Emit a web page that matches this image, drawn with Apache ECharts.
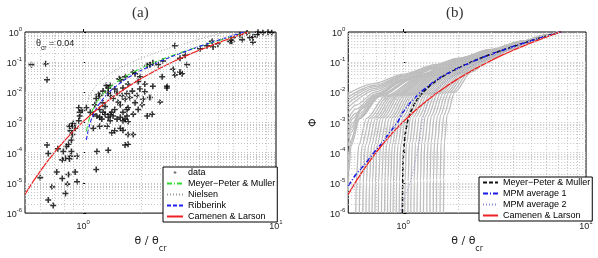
<!DOCTYPE html>
<html>
<head>
<meta charset="utf-8">
<script src="https://cdn.jsdelivr.net/npm/echarts@6/dist/echarts.min.js"></script>
<style>
  html, body { margin: 0; padding: 0; background: #fff; }
  #chartA { position: absolute; left: 0; top: 0; width: 300px; height: 258px; }
  #chartB { position: absolute; left: 300px; top: 0; width: 298px; height: 258px; }
</style>
</head>
<body>
<div id="chartA"></div>
<div id="chartB"></div>
<script>
// ---- data, [theta/theta_cr, Phi] ----
var measured = [
  [0.54,0.083],[0.64,0.089],[0.65,0.026],
  [0.65,1.8e-4],[0.66,9.5e-5],[0.74,1.35e-4],[0.79,1.1e-4],[0.78,5.8e-5],[0.81,6.6e-5],[0.85,6.2e-5],[0.86,7.7e-5],[0.93,7.7e-5],
  [0.60,1.5e-5],[0.73,2.3e-5],[0.78,1.4e-5],[0.83,9.1e-6],[0.84,1.9e-5],[0.91,2.3e-5],[0.93,1.1e-5],[0.69,7.4e-6],[0.81,4.5e-6],[0.66,2.7e-6],[0.70,1.8e-6],
  [1.17,2.8e-5],[1.18,1.1e-4],[1.35,1.2e-4],
  [0.85,7.6e-4],[0.86,5.3e-4],[0.88,4.0e-4],[0.87,2.6e-4],[0.88,8.1e-4],[0.89,9.3e-4],[0.95,1.15e-3],[0.96,1.65e-3],[0.91,6.5e-4],[0.84,1.9e-4],[0.82,1.6e-4],[0.87,1.1e-4],
  [1.18,1.65e-3],[1.22,1.5e-3],[1.25,1.3e-3],[1.35,1.5e-3],[1.38,1.15e-3],[1.43,1.65e-3],[1.5,1.3e-3],[1.56,1.5e-3],[1.61,1.15e-3],[1.65,1.3e-3],[1.69,1.65e-3],[1.71,1.07e-3],
  [1.13,6.5e-4],[1.22,7.6e-4],[1.33,7.6e-4],[1.41,4.6e-4],[1.46,5.3e-4],[1.56,6.5e-4],[1.61,5.6e-4],[1.71,4.0e-4],[1.82,4.0e-4],[1.65,1.8e-4],[1.71,1.9e-4],[2.15,1.65e-3],
  [1.2,8.5e-3],[1.22,7.9e-3],[1.32,0.017],[1.35,0.014],[1.38,0.017],[1.54,0.028],[1.57,0.026],[1.65,0.033],[1.82,0.047],[1.86,0.041],
  [2.15,0.077],[2.22,0.083],[2.3,0.095],[2.45,0.083],[2.6,0.11],[2.93,0.058],[3.18,0.047],[3.26,0.041],[2.72,0.016],[3.18,0.135],
  [3.38,0.17],[4.04,0.28],[4.39,0.35],[4.72,0.32],[5.78,0.49],[5.98,0.65],[6.5,0.81],[7.08,0.93],[7.6,0.7],[8.07,0.98],
  [8.55,0.94],[9.09,0.98],[9.5,0.95],[7.33,0.65],[7.97,0.81],
  [2.99,0.35],[4.66,0.49],[5.0,0.4],[5.9,0.49],[6.67,0.56],[7.6,0.46],[3.46,0.083],[2.99,0.038],[2.72,0.014],[2.51,4.8e-3],
  [2.22,6.8e-3],[2.3,0.016],[2.57,0.033],[2.28,1.9e-3],
  [1.38,7.9e-3],[1.43,6.3e-3],[1.5,9.8e-3],[1.52,4.8e-3],[1.56,3.9e-3],[1.59,7.9e-3],[1.65,5.9e-3],[1.69,9.1e-3],[1.71,3.1e-3],[1.75,6.8e-3],
  [1.8,0.011],[1.86,4.5e-3],[1.9,7.9e-3],[1.97,0.013],[2.05,5.9e-3],[2.09,0.0105],[1.46,2.7e-3],[1.3,3.4e-3],[1.27,4.5e-3],[1.41,2.2e-3],
  [1.61,2.2e-3],[1.93,2.7e-3],[1.22,2.7e-3],[1.15,3.9e-3],[1.09,2.2e-3],[1.04,3.1e-3],[0.95,3.1e-3],[0.96,2.2e-3],[0.99,2.5e-3],[1.13,1.9e-3],
  [1.3,1.9e-3],[2.02,3.9e-3],[1.82,1.9e-3],[1.69,2.7e-3],[1.17,6.3e-3],[1.35,9.8e-3],[1.46,0.013],[1.61,0.014],[1.71,0.019],[1.93,0.023],
  [2.09,0.019],[1.97,0.033],[1.27,0.011],[1.27,2.2e-3],[1.38,1.9e-3]
];

var camenenLarson = [[0.5,4.19e-6],[0.55,1.1e-5],[0.6,2.47e-5],[0.65,4.95e-5],[0.7,9.07e-5],[0.75,1.55e-4],[0.8,2.48e-4],
  [0.85,3.78e-4],[0.9,5.52e-4],[0.95,7.8e-4],[1.0,1.07e-3],[1.1,1.85e-3],[1.2,2.97e-3],[1.35,5.37e-3],[1.5,8.78e-3],
  [1.75,0.017],[2,0.0286],[2.5,0.0627],[3,0.111],[3.5,0.174],[4,0.249],[5,0.436],[6,0.667],[7,0.935],[7.3,1.02]];
var mpmA = [[1.04,5.1e-4],[1.07,1.19e-3],[1.1,2.02e-3],[1.15,3.72e-3],[1.2,5.72e-3],[1.3,0.0105],[1.4,0.0162],[1.55,0.0261],
  [1.7,0.0375],[2,0.064],[2.5,0.118],[3,0.181],[4,0.333],[5,0.512],[6,0.716],[7,0.941],[7.3,1.01]];
var nielsen = [[1.04,3.9e-3],[1.1,0.0101],[1.2,0.021],[1.35,0.038],[1.5,0.0588],[1.75,0.095],[2,0.136],[2.5,0.228],[3,0.333],
  [4,0.576],[5,0.859],[5.5,1.01]];
var ribberink = [[1.04,2.67e-4],[1.07,6.72e-4],[1.1,1.21e-3],[1.15,2.36e-3],[1.2,3.79e-3],[1.3,7.4e-3],[1.4,0.0119],[1.55,0.0201],
  [1.7,0.03],[2,0.054],[2.5,0.105],[3,0.17],[4,0.331],[5,0.532],[6,0.769],[7,1.04]];

var mpmB = [[0.99,1e-6],[0.991,2.0e-6],[0.995,2.26e-5],[1.0,6.4e-5],[1.01,1.81e-4],[1.03,5.12e-4],[1.06,1.19e-3],[1.1,2.33e-3],
  [1.15,4.1e-3],[1.2,6.16e-3],[1.3,0.011],[1.4,0.0168],[1.55,0.0268],[1.7,0.0383],[2,0.065],[2.5,0.119],[3,0.182],[4,0.334],
  [5,0.514],[6,0.718],[7,0.943],[7.3,1.03]];
var mpmAverage1 = [[0.5,8e-6],[0.55,1.9e-5],[0.62,4.3e-5],[0.69,1e-4],[0.76,2e-4],[0.84,4.6e-4],[0.93,1.0e-3],[1.0,2.3e-3],
  [1.1,4.8e-3],[1.24,1.0e-2],[1.4,1.8e-2],[1.6,3.2e-2],[1.8,4.6e-2],[2,6.3e-2],[2.5,0.117],[3,0.18],[4,0.332],[5,0.512],
  [6,0.716],[7,0.94],[7.3,1.01]];
var mpmAverage2 = [[0.955,1e-6],[1.02,3.5e-6],[1.1,1.15e-5],[1.16,5e-5],[1.22,2.0e-4],[1.27,1.0e-3],[1.32,2.8e-3],[1.4,6.5e-3],
  [1.55,0.014],[1.8,0.03],[2.2,0.06],[3,0.15],[4,0.3],[5,0.49],[6,0.71],[7.1,1.0]];

// individual MPM realisations (grey fan in panel b)
var ensemble = [
  [[0.5,9.3e-3],[0.7,0.0199],[1,0.0404],[1.5,0.0836],[2,0.136],[3,0.264],[4.5,0.503],[6,0.788],[7,1]],
  [[0.5,7.1e-3],[0.7,0.0172],[1,0.037],[1.5,0.0797],[2,0.132],[3,0.26],[4.5,0.50],[6,0.786],[7,1]],
  [[0.5,5.7e-3],[0.7,0.0154],[1,0.0347],[1.5,0.077],[2,0.129],[3,0.257],[4.5,0.4975],[6,0.785],[7,1]],
  [[0.5,4.42e-3],[0.7,0.0136],[1,0.0325],[1.5,0.0743],[2,0.126],[3,0.254],[4.5,0.495],[6,0.784],[7,1]],
  [[0.5,3.2e-3],[0.7,0.0119],[1,0.0302],[1.5,0.0715],[2,0.123],[3,0.251],[4.5,0.4925],[6,0.783],[7,1]],
  [[0.5,2.15e-3],[0.55,3.77e-3],[0.7,0.0102],[1,0.028],[1.5,0.0688],[2,0.12],[3,0.248],[4.5,0.49],[6,0.782],[7,1]],
  [[0.5,1.34e-3],[0.55,2.78e-3],[0.7,8.78e-3],[1,0.0262],[1.5,0.0665],[2,0.118],[3,0.2455],[4.5,0.488],[6,0.781],[7,1]],
  [[0.5,1.0e-3],[0.55,2.0e-3],[0.7,8.1e-3],[1,0.0252],[1.5,0.0653],[2,0.1165],[3,0.244],[4.5,0.487],[6,0.7805],[7,1]],
  [[0.5,6.67e-4],[0.53,1.35e-3],[0.6,3.47e-3],[0.7,7.46e-3],[1,0.0243],[1.5,0.0642],[2,0.115],[3,0.243],[4.5,0.486],[6,0.78],[7,1]],
  [[0.5,4.6e-4],[0.53,1.0e-3],[0.6,3.0e-3],[0.72,7.9e-3],[1,0.0235],[1.5,0.063],[2,0.114],[3,0.242],[4.5,0.485],[6,0.7795],[7,1]],
  [[0.5,3.11e-4],[0.52,6.7e-4],[0.57,1.89e-3],[0.72,7.49e-3],[1.17,0.0351],[2,0.1133],[3,0.241],[4.5,0.484],[6,0.779],[7,1]],
  [[0.5,1.7e-4],[0.52,4.8e-4],[0.57,1.6e-3],[0.73,7.5e-3],[1.18,0.0352],[2,0.1125],[3,0.2403],[4.5,0.484],[6,0.779],[7,1]],
  [[0.5,6.0e-5],[0.51,1.7e-4],[0.57,1.36e-3],[0.74,7.53e-3],[1.19,0.0353],[2,0.1118],[3,0.2396],[4.5,0.484],[6,0.779],[7,1]],
  [[0.5,2.1e-5],[0.505,7.5e-5],[0.515,2.5e-4],[0.574,1.36e-3],[0.744,7.53e-3],[1.195,0.0353],[2,0.1114],[3,0.239],[4.5,0.483],[6,0.7785],[7,1]],
  [[0.5,5.4e-6],[0.503,2.13e-5],[0.518,1.7e-4],[0.578,1.36e-3],[0.748,7.53e-3],[1.2,0.0354],[2,0.111],[3,0.2385],[4.5,0.482],[6,0.778],[7,1]],
  [[0.55,1e-6],[0.553,1.0e-5],[0.57,1.73e-4],[0.63,1.38e-3],[0.8,7.63e-3],[1.25,0.0358],[2,0.1066],[3,0.234],[4.5,0.479],[6,0.777],[7,1]],
  [[0.575,1e-6],[0.578,1.0e-5],[0.595,1.74e-4],[0.655,1.39e-3],[0.825,7.67e-3],[1.275,0.036],[2,0.1045],[3,0.232],[4.5,0.477],[6,0.776],[7,1]],
  [[0.6,1e-6],[0.603,1.0e-5],[0.62,1.75e-4],[0.68,1.4e-3],[0.85,7.72e-3],[1.3,0.0362],[2,0.1023],[3,0.2297],[4.5,0.4757],[6,0.775],[7,1]],
  [[0.625,1e-6],[0.628,1.02e-5],[0.645,1.76e-4],[0.705,1.4e-3],[0.875,7.77e-3],[1.325,0.0364],[2,0.1],[3,0.2275],[4.5,0.474],[6,0.774],[7,1]],
  [[0.65,1e-6],[0.653,1.03e-5],[0.67,1.77e-4],[0.73,1.41e-3],[0.9,7.81e-3],[1.35,0.0366],[2,0.098],[3,0.2252],[4.5,0.472],[6,0.773],[7,1]],
  [[0.675,1e-6],[0.678,1.03e-5],[0.695,1.78e-4],[0.755,1.42e-3],[0.925,7.86e-3],[1.375,0.0368],[2,0.0959],[3,0.2229],[4.5,0.47],[6,0.7725],[7,1]],
  [[0.7,1e-6],[0.703,1.04e-5],[0.72,1.79e-4],[0.78,1.43e-3],[0.95,7.91e-3],[1.4,0.0371],[2,0.0938],[3,0.2206],[4.5,0.4685],[6,0.772],[7,1]],
  [[0.73,1e-6],[0.733,1.045e-5],[0.75,1.8e-4],[0.81,1.44e-3],[0.98,7.96e-3],[1.43,0.0373],[2,0.0912],[3,0.2178],[4.5,0.466],[6,0.7705],[7,1]],
  [[0.76,1e-6],[0.763,1.05e-5],[0.78,1.82e-4],[0.84,1.45e-3],[1.01,8.02e-3],[1.46,0.0376],[2,0.0886],[3,0.215],[4.5,0.464],[6,0.769],[7,1]],
  [[0.79,1e-6],[0.793,1.06e-5],[0.81,1.83e-4],[0.87,1.46e-3],[1.04,8.08e-3],[1.49,0.0378],[2,0.086],[3,0.2123],[4.5,0.462],[6,0.768],[7,1]],
  [[0.82,1e-6],[0.823,1.07e-5],[0.84,1.84e-4],[0.9,1.47e-3],[1.07,8.14e-3],[1.52,0.0381],[2,0.0834],[3,0.2096],[4.5,0.4596],[6,0.7675],[7,1]],
  [[0.85,1e-6],[0.853,1.08e-5],[0.87,1.85e-4],[0.93,1.48e-3],[1.1,8.2e-3],[1.55,0.0384],[2,0.0808],[3,0.2067],[4.5,0.4573],[6,0.766],[7,1]],
  [[0.88,1e-6],[0.883,1.09e-5],[0.9,1.87e-4],[0.96,1.49e-3],[1.13,8.26e-3],[1.58,0.0387],[2,0.0783],[3,0.2039],[4.5,0.455],[6,0.765],[7,1]],
  [[0.915,1e-6],[0.918,1.1e-5],[0.935,1.88e-4],[0.995,1.5e-3],[1.165,8.33e-3],[1.615,0.039],[2,0.0753],[3,0.2006],[4.5,0.452],[6,0.764],[7,1]],
  [[0.95,1e-6],[0.953,1.1e-5],[0.97,1.9e-4],[1.03,1.52e-3],[1.2,8.4e-3],[1.65,0.0394],[2,0.0723],[3,0.1973],[4.5,0.4495],[6,0.763],[7,1]],
  [[0.985,1e-6],[0.988,1.11e-5],[1.005,1.92e-4],[1.065,1.53e-3],[1.235,8.47e-3],[1.685,0.0397],[2,0.0693],[3,0.194],[4.5,0.447],[6,0.7615],[7,1]],
  [[1.02,1e-6],[1.023,1.12e-5],[1.04,1.94e-4],[1.1,1.55e-3],[1.27,8.55e-3],[1.72,0.0401],[2,0.0664],[3,0.1906],[4.5,0.444],[6,0.76],[7,1]],
  [[1.06,1e-6],[1.063,1.13e-5],[1.08,1.95e-4],[1.14,1.56e-3],[1.31,8.63e-3],[1.76,0.0405],[2.15,0.079],[3,0.1867],[4.5,0.441],[6,0.7585],[7,1]],
  [[1.1,1e-6],[1.103,1.15e-5],[1.12,1.97e-4],[1.18,1.58e-3],[1.35,8.72e-3],[1.8,0.0409],[2.3,0.0917],[3,0.1828],[4.5,0.4375],[6,0.757],[7,1]],
  [[1.145,1e-6],[1.148,1.16e-5],[1.165,2.0e-4],[1.225,1.6e-3],[1.395,8.83e-3],[1.845,0.0414],[2.35,0.0934],[3,0.1784],[4.5,0.434],[6,0.755],[7,1]],
  [[1.19,1e-6],[1.193,1.17e-5],[1.21,2.02e-4],[1.27,1.61e-3],[1.44,8.93e-3],[1.89,0.0419],[2.4,0.0951],[3,0.174],[4.5,0.43],[6,0.7535],[7,1]],
  [[1.24,1e-6],[1.243,1.18e-5],[1.26,2.05e-4],[1.32,1.64e-3],[1.49,9.05e-3],[1.94,0.0425],[2.45,0.0964],[3,0.169],[4.5,0.426],[6,0.751],[7,1]],
  [[1.29,1e-6],[1.293,1.2e-5],[1.31,2.07e-4],[1.37,1.66e-3],[1.54,9.16e-3],[1.99,0.043],[2.5,0.0976],[3,0.164],[4.5,0.4216],[6,0.749],[7,1]],
  [[1.345,1e-6],[1.348,1.22e-5],[1.365,2.1e-4],[1.425,1.68e-3],[1.595,9.3e-3],[2.05,0.0436],[2.55,0.0984],[3.1,0.173],[4.5,0.417],[6,0.747],[7,1]],
  [[1.4,1e-6],[1.403,1.24e-5],[1.42,2.14e-4],[1.48,1.71e-3],[1.65,9.43e-3],[2.1,0.0442],[2.6,0.0992],[3.2,0.182],[4.5,0.412],[6,0.7446],[7,1]],
  [[1.46,1e-6],[1.463,1.26e-5],[1.48,2.17e-4],[1.54,1.73e-3],[1.71,9.58e-3],[2.16,0.045],[2.7,0.106],[3.35,0.2],[4.5,0.4065],[6,0.742],[7,1]],
  [[1.52,1e-6],[1.523,1.28e-5],[1.54,2.21e-4],[1.6,1.76e-3],[1.77,9.74e-3],[2.22,0.0457],[2.8,0.1129],[3.5,0.2172],[4.5,0.401],[6,0.739],[7,1]],
  [[1.59,1e-6],[1.593,1.3e-5],[1.61,2.25e-4],[1.67,1.8e-3],[1.84,9.9e-3],[2.29,0.0466],[2.9,0.119],[3.75,0.25],[4.75,0.45],[6,0.736],[7,1]],
  [[1.66,1e-6],[1.663,1.33e-5],[1.68,2.29e-4],[1.74,1.83e-3],[1.91,0.0101],[2.36,0.0475],[3,0.1257],[4,0.29],[5,0.4947],[6,0.7327],[7,1]]
];

var xMinorValues = [0.6, 0.7, 0.8, 0.9, 2, 3, 4, 5, 6, 7, 8, 9];
var yDecades = [-6, -5, -4, -3, -2, -1];

// ---- helpers ----
var FONT = 'Liberation Sans';
var PLUS = 'path://M8.7,5h2.6v3.7h3.7v2.6h-3.7v3.7h-2.6v-3.7h-3.7v-2.6h3.7z';
var PLUS_LEGEND = 'path://M0,0h0.3v0.3h-0.3z M19.7,19.7h0.3v0.3h-0.3z M9.1,6h1.8v3.1h3.1v1.8h-3.1v3.1h-1.8v-3.1h-3.1v-1.8h3.1z';
function toLog(pts) {
  return pts.map(function (p) { return [Math.log10(p[0]), Math.log10(p[1])]; });
}
function powLabel(v) {
  var n = Math.round(v);
  if (Math.abs(v - n) > 1e-6) return '';
  return '{b|10}{s|' + n + '}';
}
var tickRich = {
  b: { fontSize: 9, fontFamily: FONT, color: '#222', verticalAlign: 'bottom', lineHeight: 12 },
  s: { fontSize: 6, fontFamily: FONT, color: '#222', verticalAlign: 'top', lineHeight: 12 }
};
var nameRich = {
  m: { fontSize: 11, fontFamily: 'DejaVu Sans', color: '#222', verticalAlign: 'top', lineHeight: 17 },
  c: { fontSize: 8, fontFamily: 'DejaVu Sans', color: '#222', verticalAlign: 'bottom', lineHeight: 17 }
};

function gridLineData() {
  var out = [{ xAxis: 0 }];
  xMinorValues.forEach(function (v) { out.push({ xAxis: Math.log10(v) }); });
  yDecades.forEach(function (n) {
    for (var k = 1; k < 10; k++) {
      if (n === -6 && k === 1) continue;
      out.push({ yAxis: n + Math.log10(k) });
    }
  });
  return out;
}
function gridSeries() {
  return {
    type: 'line', data: [], z: 1, silent: true,
    markLine: {
      silent: true, symbol: ['none', 'none'], label: { show: false },
      lineStyle: { color: '#c4c4c4', type: [1, 2], width: 1 },
      animation: false, data: gridLineData()
    }
  };
}
function curve(name, pts, color, type, width) {
  return {
    name: name, type: 'line', data: toLog(pts), symbol: 'none', symbolSize: 0, showSymbol: false,
    smooth: false, z: 4,
    lineStyle: { color: color, type: type, width: width, join: 'round' },
    itemStyle: { color: color, opacity: 0 }
  };
}
function axes(withName) {
  return {
    xAxis: {
      type: 'value', min: Math.log10(0.5), max: 1,
      axisLine: { show: false },
      axisTick: { show: true, inside: true, length: 3, customValues: [0], lineStyle: { color: '#000' } },
      axisLabel: { customValues: [0, 1], formatter: powLabel, rich: tickRich, margin: 6 },
      splitLine: { show: false },
      name: '{m|\u03b8 / \u03b8}{c|cr}', nameLocation: 'middle', nameGap: 13,
      nameTextStyle: { rich: nameRich }
    },
    yAxis: {
      type: 'value', min: -6, max: 0, interval: 1,
      axisLine: { show: false },
      axisTick: { show: true, inside: true, length: 3, lineStyle: { color: '#000' } },
      axisLabel: { formatter: powLabel, rich: tickRich, margin: 3 },
      splitLine: { show: false },
      name: withName ? '\u03a6' : '', nameLocation: 'middle', nameGap: 21, nameRotate: 90,
      nameTextStyle: { fontSize: 11, fontFamily: 'DejaVu Sans', color: '#222' }
    }
  };
}
var legendBase = {
  orient: 'vertical', itemWidth: 16, itemHeight: 8, itemGap: 2, padding: [1, 2, 1, 3],
  backgroundColor: '#fff', borderColor: '#000', borderWidth: 1, borderRadius: 0,
  selectedMode: false, z: 10,
  textStyle: { fontSize: 9, fontFamily: FONT, color: '#000', lineHeight: 9 }
};
var titleStyle = { fontSize: 15, fontFamily: 'Liberation Serif', fontWeight: 'normal', color: '#333' };

// ---- panel (a) ----
var chartA = echarts.init(document.getElementById('chartA'));
var axA = axes(false);
chartA.setOption({
  animation: false,
  title: { text: '(a)', left: 127, top: 1, textStyle: titleStyle },
  grid: { left: 25, top: 32, width: 251, height: 194, show: true, borderColor: '#000', borderWidth: 1, backgroundColor: '#fff' },
  xAxis: axA.xAxis,
  yAxis: axA.yAxis,
  legend: Object.assign({}, legendBase, {
    left: 163, top: 167,
    data: [{ name: 'data', icon: PLUS_LEGEND }, 'Meyer\u2212Peter & Muller', 'Nielsen', 'Ribberink', 'Camenen & Larson']
  }),
  graphic: [{
    type: 'text', left: 36, top: 39, z: 20,
    style: {
      text: '{t|\u03b8}{s|cr}{t| = 0.04}',
      rich: {
        t: { fontSize: 9, fontFamily: FONT, fill: '#222', verticalAlign: 'top', lineHeight: 13 },
        s: { fontSize: 6.5, fontFamily: FONT, fill: '#222', verticalAlign: 'bottom', lineHeight: 13 }
      }
    }
  }],
  series: [
    gridSeries(),
    {
      name: 'data', type: 'scatter', data: toLog(measured), z: 3,
      symbol: PLUS, symbolSize: 6,
      itemStyle: { color: '#000' }
    },
    curve('Meyer\u2212Peter & Muller', mpmA, '#33dd33', [5, 2, 1, 2], 1.1),
    curve('Nielsen', nielsen, '#9a9a9a', [1, 2], 1),
    curve('Ribberink', ribberink, '#2020ee', [4, 2], 1.1),
    curve('Camenen & Larson', camenenLarson, '#ee2222', 'solid', 1.2)
  ]
});

// ---- panel (b) ----
var chartB = echarts.init(document.getElementById('chartB'));
var axB = axes(true);
var seriesB = [gridSeries()];
ensemble.forEach(function (c) {
  seriesB.push({
    type: 'line', data: toLog(c), symbol: 'none', showSymbol: false, silent: true,
    smooth: 0.3, smoothMonotone: 'x', z: 2,
    lineStyle: { color: '#bdbdbd', width: 1.3 }
  });
});
seriesB.push(
  curve('Meyer\u2212Peter & Muller', mpmB, '#111', [4, 2], 1.6),
  curve('MPM average 1', mpmAverage1, '#1a1ae6', [5, 2, 1, 2], 1.6),
  curve('MPM average 2', mpmAverage2, '#8888cc', [1, 2], 1),
  curve('Camenen & Larson', camenenLarson, '#ee2222', 'solid', 1.3)
);
chartB.setOption({
  animation: false,
  title: { text: '(b)', left: 141, top: 1, textStyle: titleStyle },
  grid: { left: 41, top: 32, width: 245, height: 194, show: true, borderColor: '#000', borderWidth: 1, backgroundColor: '#fff' },
  xAxis: axB.xAxis,
  yAxis: axB.yAxis,
  legend: Object.assign({}, legendBase, {
    left: 179, top: 177, itemWidth: 15,
    data: ['Meyer\u2212Peter & Muller', 'MPM average 1', 'MPM average 2', 'Camenen & Larson']
  }),
  series: seriesB
});
</script>
</body>
</html>
